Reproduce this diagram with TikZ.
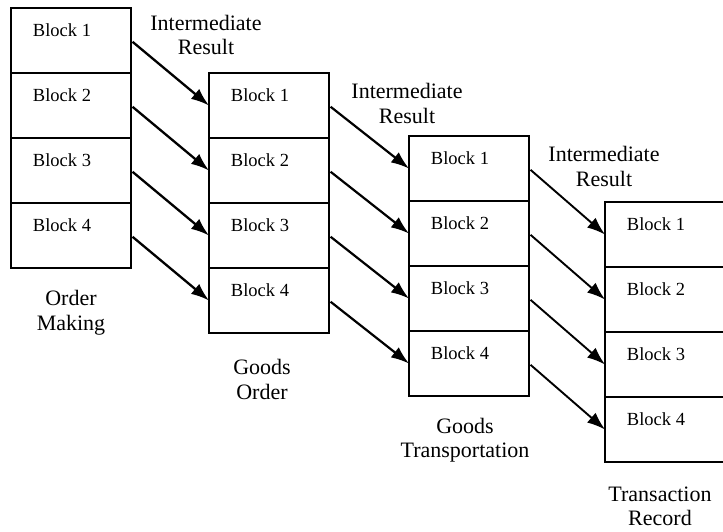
\documentclass[tikz,border=0pt]{standalone}
\usepackage{fontspec}
\setmainfont{Liberation Serif}
\usetikzlibrary{arrows.meta}
\begin{document}
\begin{tikzpicture}[x=1pt,y=-1pt,
  blk/.style={draw, line width=2pt, minimum width=120pt, minimum height=65pt,
    inner sep=0pt, outer sep=0pt},
  blktext/.style={font=\fontsize{18.5}{22}\selectfont, inner sep=0pt},
  captext/.style={align=center, font=\fontsize{22}{24.5}\selectfont, inner sep=0pt},
  link/.style={-{Latex[length=18pt,width=13pt]}, shorten <=2pt}
]
\useasboundingbox (0,0) rectangle (723,531);

% four stacks of four blocks each
\foreach \col/\x/\y in {1/11/8, 2/209/73, 3/409/136, 4/605/202} {
  \foreach \k in {1,...,4} {
    \node[blk, label={[blktext, shift={(-9pt,10pt)}]center:Block \k}]
      (c\col b\k) at (\x+60, \y+32.5+65*\k-65) {};
  }
}

% block-to-block links between neighbouring stacks
\foreach \col/\nxt/\lw in {1/2/2.3pt, 2/3/2.2pt, 3/4/1.9pt} {
  \foreach \k in {1,...,4} {
    \draw[link, line width=\lw] (c\col b\k.east) -- (c\nxt b\k.west);
  }
}

% link captions
\node[captext] (ir1) at (206,35) {Intermediate\\Result};
\node[captext] (ir2) at (407,103.5) {Intermediate\\Result};
\node[captext] (ir3) at (604,166.5) {Intermediate\\Result};

% stage captions
\node[captext] (s1) at (71,312.5) {Order\\Making};
\node[captext] (s2) at (262,379.5) {Goods\\Order};
\node[captext] (s3) at (465,440) {Goods\\Transportation};
\node[captext] (s4) at (660,506.5) {Transaction\\Record};
\end{tikzpicture}
\end{document}
